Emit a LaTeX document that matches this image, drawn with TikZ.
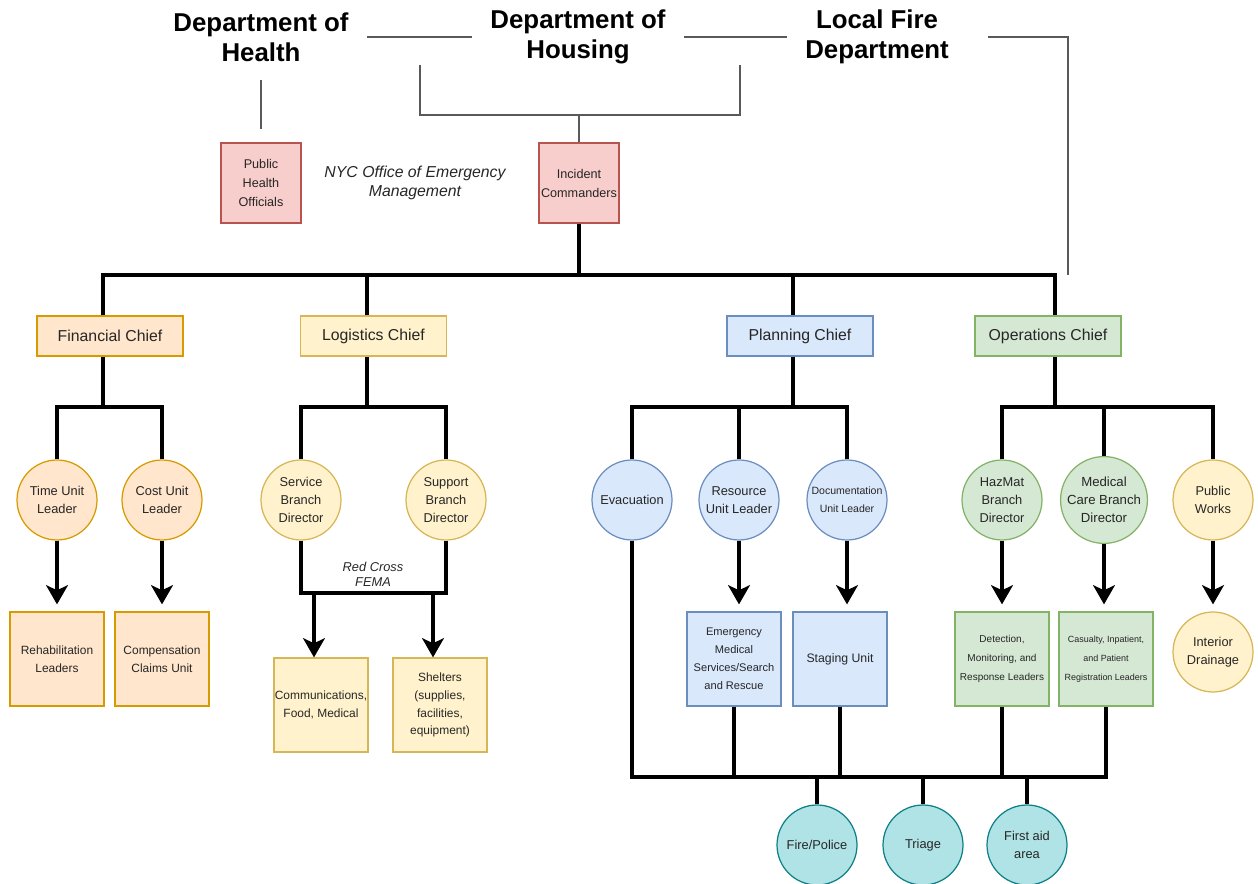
\documentclass[tikz,border=0pt]{standalone}
\usepackage{fontspec}
\setmainfont{Liberation Sans}
\usetikzlibrary{arrows.meta}
\definecolor{pinkF}{HTML}{F8CECC}\definecolor{pinkD}{HTML}{B85450}
\definecolor{orgF}{HTML}{FFE6CC}\definecolor{orgD}{HTML}{D79B00}
\definecolor{yelF}{HTML}{FFF2CC}\definecolor{yelD}{HTML}{D6B656}
\definecolor{bluF}{HTML}{DAE8FC}\definecolor{bluD}{HTML}{6C8EBF}
\definecolor{grnF}{HTML}{D5E8D4}\definecolor{grnD}{HTML}{82B366}
\definecolor{tealF}{HTML}{B0E3E6}\definecolor{tealD}{HTML}{0E8088}
\newcommand\fsz[2]{\fontsize{#1}{#2}\selectfont}
\begin{document}
\begin{tikzpicture}[x=0.02cm,y=-0.02cm,
  hdr/.style={font=\bfseries\fsz{14.7}{17}, align=center, inner xsep=0.36cm, inner ysep=0},
  box/.style={draw, rectangle, align=center, inner sep=0, line width=0.7pt, text=black!85},
  sq/.style={box, minimum width=1.88cm, minimum height=1.88cm},
  pbox/.style={box, minimum width=1.6cm, minimum height=1.6cm, font=\fsz{7.2}{10.8}},
  chief/.style={box, minimum width=2.92cm, minimum height=0.8cm, font=\fsz{9}{11}},
  circ/.style={draw, circle, minimum size=1.6cm, inner sep=0, align=center, line width=0.7pt, text=black!85, font=\fsz{7.3}{10.2}},
  pinkN/.style={fill=pinkF, draw=pinkD},
  orgN/.style={fill=orgF, draw=orgD},
  yelN/.style={fill=yelF, draw=yelD},
  bluN/.style={fill=bluF, draw=bluD},
  grnN/.style={fill=grnF, draw=grnD},
  tealN/.style={fill=tealF, draw=tealD},
  thinl/.style={draw=black!65, line width=0.6pt},
  bus/.style={draw=black, line width=1.8pt},
  arr/.style={bus, -{Stealth[length=11pt,width=12.5pt,inset=3pt]}},
]
\useasboundingbox (0,0) rectangle (1258,884);

% headers
\node[hdr] (hHealth) at (261,37) {Department of\\Health};
\node[hdr] (hHousing) at (578,37) {Department of\\Housing};
\node[hdr] (hFire) at (877,37) {Local Fire\\Department};

% top level
\node[pbox, pinkN] (pho) at (261,183) {Public\\Health\\Officials};
\node[pbox, pinkN] (ic) at (579,183) {Incident\\Commanders};
\node[font=\itshape\fsz{9}{10.8}, align=center, text=black!85] (nyc) at (415,183) {NYC Office of Emergency\\Management};

% chiefs
\node[chief, orgN] (fc) at (110,336) {Financial Chief};
\node[chief, yelN] (lc) at (373.5,336) {Logistics Chief};
\node[chief, bluN] (pc) at (800,336) {Planning Chief};
\node[chief, grnN] (oc) at (1048,336) {Operations Chief};

% financial
\node[circ, orgN] (tu) at (57,500) {Time Unit\\Leader};
\node[circ, orgN] (cu) at (162,500) {Cost Unit\\Leader};
\node[sq, orgN, font=\fsz{6.8}{10.2}] (rh) at (57,659) {Rehabilitation\\Leaders};
\node[sq, orgN, font=\fsz{6.8}{10.2}] (cc) at (162,659) {Compensation\\Claims Unit};

% logistics
\node[circ, yelN] (sb) at (301,500) {Service\\Branch\\Director};
\node[circ, yelN] (spb) at (446,500) {Support\\Branch\\Director};
\node[sq, yelN, font=\fsz{6.8}{10.2}] (cm) at (321,705) {Communications,\\Food, Medical};
\node[sq, yelN, font=\fsz{6.8}{10.2}] (sh) at (440,705) {Shelters\\(supplies,\\facilities,\\equipment)};
\node[font=\itshape\fsz{7.3}{8.5}, align=center, text=black!85] (rc) at (373,574) {Red Cross\\FEMA};

% planning
\node[circ, bluN] (ev) at (632,500) {Evacuation};
\node[circ, bluN] (ru) at (739,500) {Resource\\Unit Leader};
\node[circ, bluN, font=\fsz{6}{10}] (du) at (847,500) {Documentation\\Unit Leader};
\node[sq, bluN, font=\fsz{6.3}{10.2}] (ems) at (734,659) {Emergency\\Medical\\Services/Search\\and Rescue};
\node[sq, bluN, font=\fsz{7}{10.2}] (st) at (840,659) {Staging Unit};

% operations
\node[circ, grnN] (hz) at (1002,500) {HazMat\\Branch\\Director};
\node[circ, grnN, font=\fsz{7.5}{10.2}] (mc) at (1104,500) {Medical\\Care Branch\\Director};
\node[circ, yelN] (pw) at (1213,500) {Public\\Works};
\node[sq, grnN, font=\fsz{5.7}{10.8}] (det) at (1002,659) {Detection,\\Monitoring, and\\Response Leaders};
\node[sq, grnN, font=\fsz{5.1}{10.8}] (cas) at (1106,659) {Casualty, Inpatient,\\and Patient\\Registration Leaders};
\node[circ, yelN] (idr) at (1213,652) {Interior\\Drainage};

% bottom
\node[circ, tealN] (fp) at (817,845) {Fire/Police};
\node[circ, tealN] (tr) at (923,845) {Triage};
\node[circ, tealN] (fa) at (1027,845) {First aid\\area};

% helper coordinates
\coordinate (busY) at (0,275);
\coordinate (b2Y) at (0,407);
\coordinate (b3Y) at (0,777);
\coordinate (b4Y) at (0,593);
\coordinate (fcT) at ([xshift=-0.14cm]fc.north);
\coordinate (fcB) at ([xshift=-0.14cm]fc.south);
\coordinate (lcT) at ([xshift=-0.13cm]lc.north);
\coordinate (lcB) at ([xshift=-0.13cm]lc.south);
\coordinate (pcT) at ([xshift=-0.14cm]pc.north);
\coordinate (pcB) at ([xshift=-0.14cm]pc.south);
\coordinate (ocT) at ([xshift=0.14cm]oc.north);
\coordinate (ocB) at ([xshift=0.14cm]oc.south);
\coordinate (cmT) at ([xshift=-0.14cm]cm.north);
\coordinate (shT) at ([xshift=-0.14cm]sh.north);
\coordinate (hHs) at (261,80);
\coordinate (bL) at (420,65);
\coordinate (bR) at (740,65);
\coordinate (bM) at (579,115);
\coordinate (fireEnd) at (1068,275);

% thin top connectors
\draw[thinl] (hHealth.east) -- (hHousing.west);
\draw[thinl] (hHousing.east) -- (hFire.west);
\draw[thinl] ([xshift=0.42cm]hFire.east) -| (fireEnd);
\draw[thinl] (hHs) -- ([yshift=0.26cm]pho.north);
\draw[thinl] (bL) |- (bM) -| (bR);
\draw[thinl] (bM) -- (ic.north);

% main bus
\draw[bus] (ic.south) -- (ic.south |- busY);
\draw[bus] (fcT) -- (fcT |- busY) -- (ocT |- busY) -- (ocT);
\draw[bus] (lcT) -- (lcT |- busY);
\draw[bus] (pcT) -- (pcT |- busY);

% financial
\draw[bus] (fcB) -- (fcB |- b2Y);
\draw[bus] (tu.north) |- (cu.north |- b2Y) -- (cu.north);
\draw[arr, shorten >=0.14cm] (tu.south) -- (rh.north);
\draw[arr, shorten >=0.14cm] (cu.south) -- (cc.north);

% logistics
\draw[bus] (lcB) -- (lcB |- b2Y);
\draw[bus] (sb.north) |- (spb.north |- b2Y) -- (spb.north);
\draw[bus] (sb.south) |- (spb.south |- b4Y) -- (spb.south);
\draw[arr] (cmT |- b4Y) -- (cmT);
\draw[arr] (shT |- b4Y) -- (shT);

% planning
\draw[bus] (pcB) -- (pcB |- b2Y);
\draw[bus] (ev.north) |- (du.north |- b2Y) -- (du.north);
\draw[bus] (ru.north) -- (ru.north |- b2Y);
\draw[arr, shorten >=0.14cm] (ru.south) -- (ru.south |- ems.north);
\draw[arr, shorten >=0.14cm] (du.south) -- (du.south |- st.north);

% operations
\draw[bus] (ocB) -- (ocB |- b2Y);
\draw[bus] (hz.north) |- (pw.north |- b2Y) -- (pw.north);
\draw[bus] (mc.north) -- (mc.north |- b2Y);
\draw[arr, shorten >=0.14cm] (hz.south) -- (det.north);
\draw[arr, shorten >=0.14cm] (mc.south) -- (mc.south |- cas.north);
\draw[arr, shorten >=0.14cm] (pw.south) -- (idr.north);

% bottom bus
\draw[bus] (ev.south) |- (cas.south |- b3Y) -- (cas.south);
\draw[bus] (ems.south) -- (ems.south |- b3Y);
\draw[bus] (st.south) -- (st.south |- b3Y);
\draw[bus] (det.south) -- (det.south |- b3Y);
\draw[bus] (fp.north) -- (fp.north |- b3Y);
\draw[bus] (tr.north) -- (tr.north |- b3Y);
\draw[bus] (fa.north) -- (fa.north |- b3Y);
\end{tikzpicture}
\end{document}
